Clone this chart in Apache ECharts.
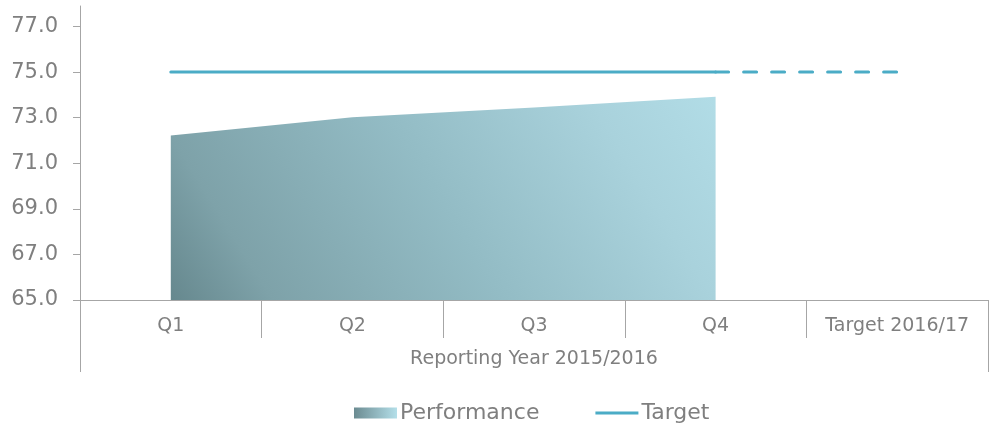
<!DOCTYPE html>
<html>
<head>
<meta charset="utf-8">
<script src="https://cdn.jsdelivr.net/npm/echarts@6/dist/echarts.min.js"></script>
<style>
  html, body { margin: 0; padding: 0; background: #fff; }
  #main { width: 990px; height: 425px; }
</style>
</head>
<body>
<div id="main"></div>
<script>
var categories = ["Q1", "Q2", "Q3", "Q4", "Target 2016/17"];
var performance = [72.22, 73.02, 73.45, 73.92, null];
var targetSolid = [75, 75, 75, 75, null];
var targetDashed = [null, null, null, 75, 75];
var yTicks = [65, 67, 69, 71, 73, 75, 77];
var groupLabel = "Reporting Year 2015/2016";

var chartDom = document.getElementById("main");
var myChart = echarts.init(chartDom);
var font = "DejaVu Sans";
var grey = "#7f7f7f";
var axisGrey = "#a6a6a6";
var teal = "#4bacc6";

var option = {
  animation: false,
  grid: { left: 80, right: 2, top: 6, bottom: 125 },
  legend: {
    left: 349,
    top: 397,
    itemWidth: 43,
    itemHeight: 11,
    itemGap: 56,
    textStyle: { fontFamily: font, fontSize: 22, color: grey, padding: [0, 0, 0, -2] },
    data: [
      {
        name: "Performance",
        icon: "rect",
        itemStyle: {
          color: new echarts.graphic.LinearGradient(0, 0, 1, 0, [
            { offset: 0, color: "#6b8b91" },
            { offset: 1, color: "#b4dfe9" }
          ])
        }
      },
      { name: "Target", icon: "path://M0,0H44V3H0Z", itemStyle: { color: teal } }
    ]
  },
  xAxis: [
    {
      type: "category",
      data: categories,
      boundaryGap: true,
      axisLine: { lineStyle: { color: axisGrey, width: 1 } },
      axisTick: { show: true, interval: 0, alignWithLabel: false, length: 38, lineStyle: { color: axisGrey } },
      axisLabel: { interval: 0, margin: 17, fontFamily: font, fontSize: 19, color: grey }
    },
    {
      type: "value",
      min: 0,
      max: 5,
      position: "bottom",
      offset: 38,
      splitLine: { show: false },
      axisLine: { show: false },
      axisTick: { show: true, customValues: [0, 5], length: 34, lineStyle: { color: axisGrey } },
      axisLabel: {
        customValues: [2.5],
        margin: 12,
        fontFamily: font,
        fontSize: 19,
        color: grey,
        formatter: function () { return groupLabel; }
      }
    }
  ],
  yAxis: {
    type: "value",
    min: 65,
    max: 77.9,
    splitLine: { show: false },
    axisLine: { show: true, lineStyle: { color: axisGrey } },
    axisTick: { show: true, customValues: yTicks, length: 7, lineStyle: { color: axisGrey } },
    axisLabel: {
      customValues: yTicks,
      margin: 22,
      fontFamily: font,
      fontSize: 21,
      color: grey,
      formatter: function (v) { return v.toFixed(1); }
    }
  },
  series: [
    {
      name: "Performance",
      type: "line",
      data: performance,
      showSymbol: false,
      lineStyle: { width: 0 },
      itemStyle: { color: "#8fb4bc" },
      areaStyle: {
        origin: "start",
        opacity: 1,
        color: new echarts.graphic.LinearGradient(0, 1, 0.9, -0.5, [
          { offset: 0, color: "#66888e" },
          { offset: 0.15, color: "#7ea2a9" },
          { offset: 0.49, color: "#93bcc5" },
          { offset: 0.8, color: "#a9d2dc" },
          { offset: 1, color: "#b2dde7" }
        ])
      },
      z: 1
    },
    {
      name: "Target",
      type: "line",
      data: targetSolid,
      showSymbol: false,
      itemStyle: { color: teal },
      lineStyle: { color: teal, width: 3, cap: "round" },
      z: 3
    },
    {
      name: "Target 2016/17",
      type: "line",
      data: targetDashed,
      showSymbol: false,
      itemStyle: { color: teal },
      lineStyle: { color: teal, width: 3, type: [13, 15], cap: "round" },
      z: 3
    }
  ]
};

option && myChart.setOption(option);
</script>
</body>
</html>
